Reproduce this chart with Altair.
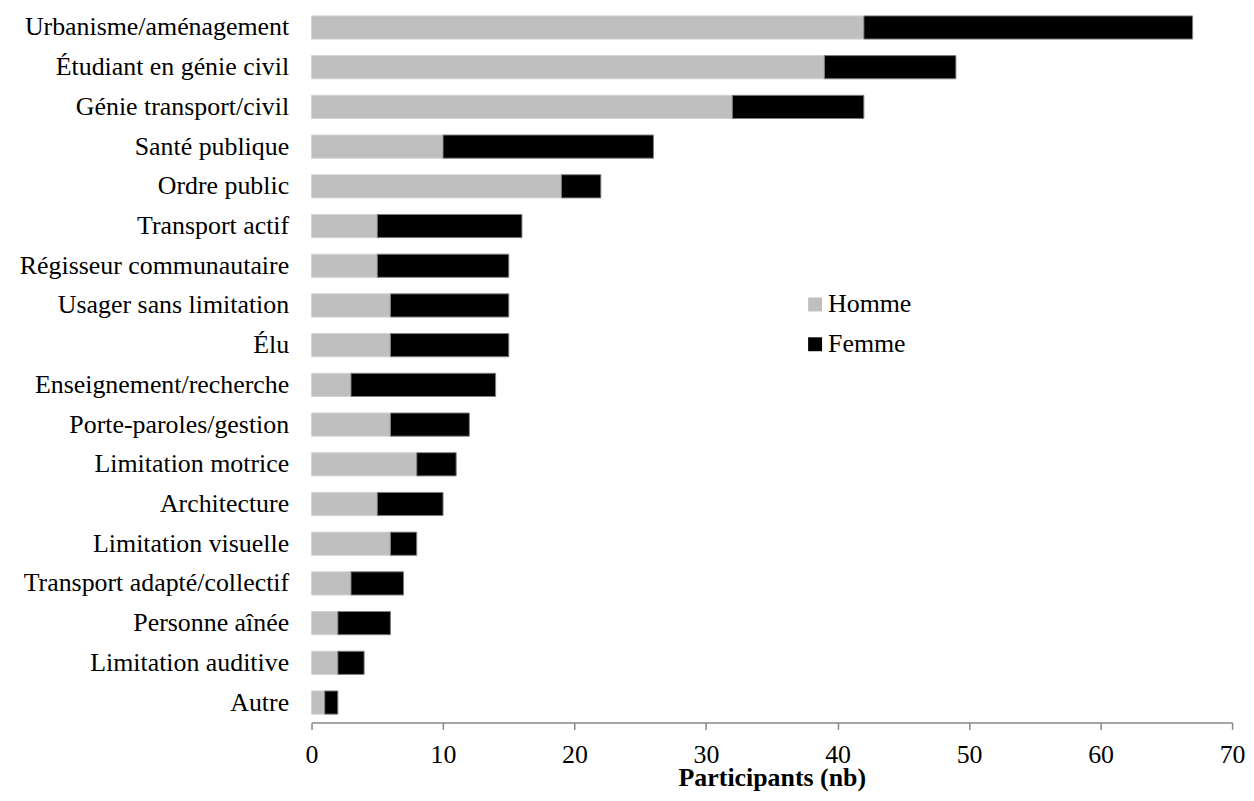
import altair as alt
import pandas as pd

categories = [
    "Urbanisme/aménagement", "Étudiant en génie civil", "Génie transport/civil",
    "Santé publique", "Ordre public", "Transport actif", "Régisseur communautaire",
    "Usager sans limitation", "Élu", "Enseignement/recherche", "Porte-paroles/gestion",
    "Limitation motrice", "Architecture", "Limitation visuelle",
    "Transport adapté/collectif", "Personne aînée", "Limitation auditive", "Autre",
]
homme = [42, 39, 32, 10, 19, 5, 5, 6, 6, 3, 6, 8, 5, 6, 3, 2, 2, 1]
femme = [25, 10, 10, 16, 3, 11, 10, 9, 9, 11, 6, 3, 5, 2, 4, 4, 2, 1]
series = ["Homme", "Femme"]
colors = ["#bfbfbf", "#000000"]
stroke_colors = ["#d4d4d4", "#7f7f7f"]
x_ticks = [0, 10, 20, 30, 40, 50, 60, 70]

rows = []
for c, h, f in zip(categories, homme, femme):
    rows.append({"cat": c, "sexe": "Homme", "n": h, "ord": 0})
    rows.append({"cat": c, "sexe": "Femme", "n": f, "ord": 1})
df = pd.DataFrame(rows)

FONT = "'Times New Roman', 'Liberation Serif', Times, serif"

chart = alt.Chart(df).mark_bar(strokeWidth=1).encode(
    x=alt.X(
        "n:Q", stack="zero",
        scale=alt.Scale(domain=[0, 70], nice=False),
        axis=alt.Axis(
            values=x_ticks, title="Participants (nb)", grid=False,
            domainColor="#898989", domainWidth=1.5, tickColor="#898989", tickWidth=1.5,
            tickSize=7, labelPadding=12, labelFont=FONT, labelFontSize=26,
            labelColor="#000000", labelFlush=False,
            titleFont=FONT, titleFontSize=26, titleFontWeight="bold",
            titleColor="#000000", titleY=63, titleBaseline="alphabetic",
        ),
    ),
    y=alt.Y(
        "cat:N", sort=categories,
        scale=alt.Scale(paddingInner=0.416, paddingOuter=0.18, align=0.42),
        axis=alt.Axis(
            title=None, domain=False, ticks=False, tickSize=0, labelPadding=23,
            labelFont=FONT, labelFontSize=26, labelColor="#000000", labelLimit=500,
        ),
    ),
    color=alt.Color(
        "sexe:N", sort=series,
        scale=alt.Scale(domain=series, range=colors),
        legend=alt.Legend(
            title=None, orient="none", legendX=493, legendY=283,
            symbolType="square", symbolSize=196, symbolStrokeWidth=0,
            labelFont=FONT, labelFontSize=26, labelColor="#000000",
            rowPadding=14, labelOffset=0, padding=0,
        ),
    ),
    stroke=alt.Stroke(
        "sexe:N", scale=alt.Scale(domain=series, range=stroke_colors), legend=None
    ),
    order=alt.Order("ord:Q"),
).properties(
    width=925, height=716,
    autosize=alt.AutoSizeParams(type="none"),
    padding={"left": 305, "top": 0, "right": 14, "bottom": 68},
).configure_view(stroke=None)

chart.save("out.html", embed_options={"renderer": "svg", "actions": False})
